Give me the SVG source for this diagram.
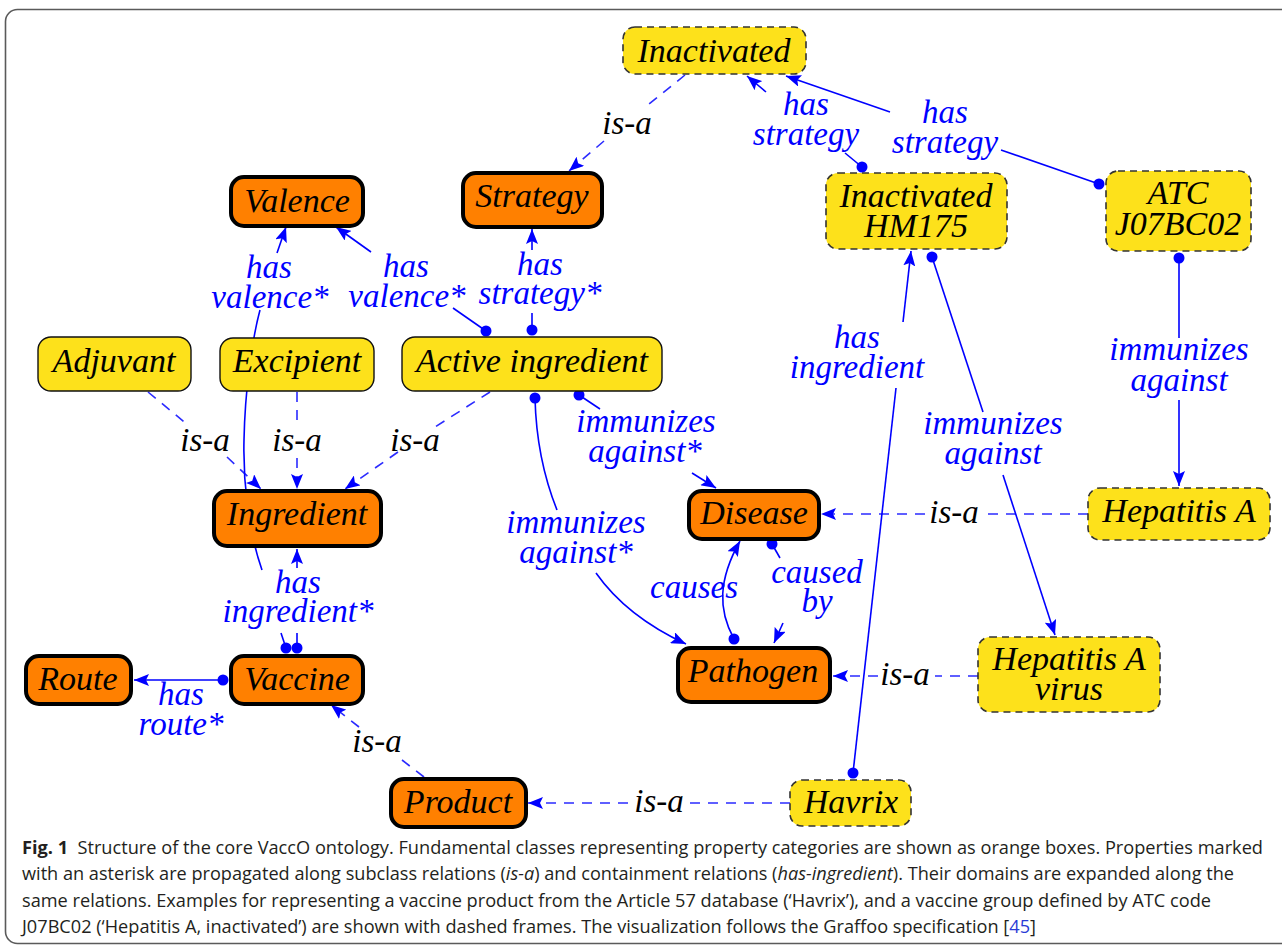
<svg xmlns="http://www.w3.org/2000/svg" width="1282" height="947" viewBox="0 0 1282 947">
<style>
.frame{fill:#fff;stroke:#5a5a5a;stroke-width:1.6}
.cls rect{fill:#ff8000;stroke:#000;stroke-width:4}
.ind rect{fill:#fde11b;stroke:#333;stroke-width:1.6;stroke-dasharray:7,5}
.sub rect{fill:#fde11b;stroke:#111;stroke-width:1.4}
.nt{font-family:"Liberation Serif",serif;font-style:italic;font-size:34px;fill:#000;text-anchor:middle}
.lb{font-family:"Liberation Serif",serif;font-style:italic;font-size:33px;fill:#0000ff;text-anchor:middle}
.isa{font-family:"Liberation Serif",serif;font-style:italic;font-size:33px;fill:#000;text-anchor:middle}
.sol{fill:none;stroke:#0000ff;stroke-width:1.6}
.das{fill:none;stroke:#2b2bff;stroke-width:1.6;stroke-dasharray:10,8}
.dot{fill:#0000ff}
.cap{font-family:"Open Sans","Liberation Sans",sans-serif;font-size:17.5px;fill:#231f20}
</style>
<defs>
<marker id="ar" viewBox="0 0 15 12" refX="15" refY="6" markerWidth="15" markerHeight="12" markerUnits="userSpaceOnUse" orient="auto">
<path d="M0,0 L15,6 L0,12 L3,6 z" fill="#0000ff"/>
</marker>
</defs>
<rect class="frame" x="5.5" y="9.5" width="1300" height="934" rx="12"/>

<g id="connectors">
<path class="das" d="M685,75 L644,108"/><path class="das" d="M604,141 L569,171" marker-end="url(#ar)"/>
<path class="das" d="M148,392 L188,425"/><path class="das" d="M227,457 L261,489" marker-end="url(#ar)"/>
<path class="das" d="M297,392 L297,427"/><path class="das" d="M297,458 L297,489" marker-end="url(#ar)"/>
<path class="das" d="M490,392 L435,427"/><path class="das" d="M398,452 L345,489" marker-end="url(#ar)"/>
<path class="das" d="M1088,514 L985,514"/><path class="das" d="M925,514 L821,514" marker-end="url(#ar)"/>
<path class="das" d="M978,676 L935,676"/><path class="das" d="M878,676 L833,676" marker-end="url(#ar)"/>
<path class="das" d="M790,803 L690,803"/><path class="das" d="M628,803 L528,803" marker-end="url(#ar)"/>
<path class="das" d="M424,777 L402,760"/><path class="das" d="M359,727 L331,705" marker-end="url(#ar)"/>
<path class="sol" d="M862,167 L845,153"/><path class="sol" d="M766,92 L747,76" marker-end="url(#ar)"/><circle class="dot" cx="862" cy="167" r="5.5"/>
<path class="sol" d="M1099,184 L1001,150"/><path class="sol" d="M890,112 L786,76" marker-end="url(#ar)"/><circle class="dot" cx="1099" cy="184" r="5.5"/>
<path class="sol" d="M1179,258 L1179,338"/><path class="sol" d="M1179,400 L1179,486" marker-end="url(#ar)"/><circle class="dot" cx="1179" cy="258" r="5.5"/>
<path class="sol" d="M853,773 L896,388"/><path class="sol" d="M903,322 L911,251" marker-end="url(#ar)"/><circle class="dot" cx="853" cy="773" r="5.5"/>
<path class="sol" d="M932,257 L983,412"/><path class="sol" d="M1003,475 L1055,635" marker-end="url(#ar)"/><circle class="dot" cx="932" cy="257" r="5.5"/>
<path class="sol" d="M532,330 L532,313"/><path class="sol" d="M532,250 L532,229" marker-end="url(#ar)"/><circle class="dot" cx="532" cy="330" r="5.5"/>
<path class="sol" d="M486,331 L453,308"/><path class="sol" d="M371,252 L336,227" marker-end="url(#ar)"/><circle class="dot" cx="486" cy="331" r="5.5"/>
<path class="sol" d="M286,648 L281,633"/><path class="sol" d="M262,570 C248,530 243,480 244,440 C245,390 252,340 260,310"/><path class="sol" d="M277,253 L286,227" marker-end="url(#ar)"/><circle class="dot" cx="286" cy="648" r="5.5"/>
<path class="sol" d="M297,648 L297,633"/><path class="sol" d="M297,568 L297,549" marker-end="url(#ar)"/><circle class="dot" cx="297" cy="648" r="5.5"/>
<path class="sol" d="M223,680 L134,680" marker-end="url(#ar)"/><circle class="dot" cx="223" cy="680" r="5.5"/>
<path class="sol" d="M579,395 L600,409"/><path class="sol" d="M692,473 L716,488" marker-end="url(#ar)"/><circle class="dot" cx="579" cy="395" r="5.5"/>
<path class="sol" d="M535,398 C536,440 545,480 557,510"/><path class="sol" d="M596,573 C615,600 645,625 686,644" marker-end="url(#ar)"/><circle class="dot" cx="535" cy="398" r="5.5"/>
<path class="sol" d="M734,639 C718,610 718,580 740,541" marker-end="url(#ar)"/><circle class="dot" cx="734" cy="639" r="5.5"/>
<path class="sol" d="M772,544 L780,558"/><path class="sol" d="M783,623 L774,643" marker-end="url(#ar)"/><circle class="dot" cx="772" cy="544" r="5.5"/>
</g>

<g id="labels">
<text class="isa" x="627" y="134">is-a</text>
<text class="isa" x="205" y="451">is-a</text>
<text class="isa" x="297" y="451">is-a</text>
<text class="isa" x="415" y="451">is-a</text>
<text class="isa" x="954" y="523">is-a</text>
<text class="isa" x="905" y="685">is-a</text>
<text class="isa" x="659" y="812">is-a</text>
<text class="isa" x="377" y="752">is-a</text>
<text class="lb" x="806" y="115">has<tspan x="806" dy="30">strategy</tspan></text>
<text class="lb" x="945" y="123">has<tspan x="945" dy="30">strategy</tspan></text>
<text class="lb" x="269" y="278">has<tspan x="270" dy="30">valence*</tspan></text>
<text class="lb" x="406" y="277">has<tspan x="407" dy="30">valence*</tspan></text>
<text class="lb" x="540" y="275">has<tspan x="540" dy="29">strategy*</tspan></text>
<text class="lb" x="646" y="432">immunizes<tspan x="645" dy="30">against*</tspan></text>
<text class="lb" x="576" y="533">immunizes<tspan x="576" dy="30">against*</tspan></text>
<text class="lb" x="857" y="348">has<tspan x="857" dy="30">ingredient</tspan></text>
<text class="lb" x="993" y="434">immunizes<tspan x="993" dy="30">against</tspan></text>
<text class="lb" x="1179" y="360">immunizes<tspan x="1179" dy="31">against</tspan></text>
<text class="lb" x="694" y="598">causes</text>
<text class="lb" x="817" y="583">caused<tspan x="817" dy="29">by</tspan></text>
<text class="lb" x="298" y="593">has<tspan x="298" dy="29">ingredient*</tspan></text>
<text class="lb" x="181" y="705">has<tspan x="181" dy="30">route*</tspan></text>
</g>

<g id="n-inactivated" class="ind"><rect x="623" y="27" width="183" height="47" rx="12"/><text class="nt" x="714" y="62">Inactivated</text></g>
<g id="n-strategy" class="cls"><rect x="463" y="173" width="139" height="54" rx="13"/><text class="nt" x="532" y="207">Strategy</text></g>
<g id="n-valence" class="cls"><rect x="231" y="177" width="132" height="49" rx="13"/><text class="nt" x="297" y="212">Valence</text></g>
<g id="n-hm175" class="ind"><rect x="826" y="173" width="181" height="76" rx="12"/><text class="nt" x="916" y="207">Inactivated<tspan x="916" dy="30">HM175</tspan></text></g>
<g id="n-atc" class="ind"><rect x="1106" y="171" width="145" height="80" rx="12"/><text class="nt" x="1178" y="204">ATC<tspan x="1178" dy="31">J07BC02</tspan></text></g>
<g id="n-adjuvant" class="sub"><rect x="38" y="337" width="153" height="54" rx="13"/><text class="nt" x="114" y="372">Adjuvant</text></g>
<g id="n-excipient" class="sub"><rect x="220" y="338" width="154" height="53" rx="13"/><text class="nt" x="297" y="372">Excipient</text></g>
<g id="n-active" class="sub"><rect x="402" y="337" width="260" height="54" rx="13"/><text class="nt" x="532" y="372">Active ingredient</text></g>
<g id="n-ingredient" class="cls"><rect x="214" y="491" width="167" height="55" rx="13"/><text class="nt" x="297" y="525">Ingredient</text></g>
<g id="n-disease" class="cls"><rect x="689" y="491" width="130" height="48" rx="13"/><text class="nt" x="754" y="524">Disease</text></g>
<g id="n-hepa" class="ind"><rect x="1088" y="488" width="182" height="52" rx="12"/><text class="nt" x="1179" y="522">Hepatitis A</text></g>
<g id="n-pathogen" class="cls"><rect x="678" y="648" width="152" height="54" rx="13"/><text class="nt" x="753" y="682">Pathogen</text></g>
<g id="n-hepav" class="ind"><rect x="978" y="637" width="182" height="75" rx="12"/><text class="nt" x="1069" y="670">Hepatitis A<tspan x="1069" dy="30">virus</tspan></text></g>
<g id="n-route" class="cls"><rect x="26" y="656" width="105" height="48" rx="13"/><text class="nt" x="78" y="690">Route</text></g>
<g id="n-vaccine" class="cls"><rect x="231" y="656" width="132" height="48" rx="13"/><text class="nt" x="297" y="690">Vaccine</text></g>
<g id="n-product" class="cls"><rect x="391" y="779" width="135" height="48" rx="13"/><text class="nt" x="458" y="813">Product</text></g>
<g id="n-havrix" class="ind"><rect x="790" y="780" width="121" height="46" rx="12"/><text class="nt" x="851" y="813">Havrix</text></g>

<g id="caption">
<text class="cap" x="22" y="854" textLength="1241" lengthAdjust="spacingAndGlyphs"><tspan font-weight="bold">Fig. 1</tspan><tspan dx="9">Structure of the core VaccO ontology. Fundamental classes representing property categories are shown as orange boxes. Properties marked</tspan></text>
<text class="cap" x="22" y="880" textLength="1212" lengthAdjust="spacingAndGlyphs">with an asterisk are propagated along subclass relations (<tspan font-style="italic">is-a</tspan>) and containment relations (<tspan font-style="italic">has-ingredient</tspan>). Their domains are expanded along the</text>
<text class="cap" x="22" y="906.5" textLength="1189" lengthAdjust="spacingAndGlyphs">same relations. Examples for representing a vaccine product from the Article 57 database (‘Havrix’), and a vaccine group defined by ATC code</text>
<text class="cap" x="22" y="933" textLength="1014" lengthAdjust="spacingAndGlyphs">J07BC02 (‘Hepatitis A, inactivated’) are shown with dashed frames. The visualization follows the Graffoo specification [<tspan fill="#2a3bd6">45</tspan>]</text>
</g>
</svg>
